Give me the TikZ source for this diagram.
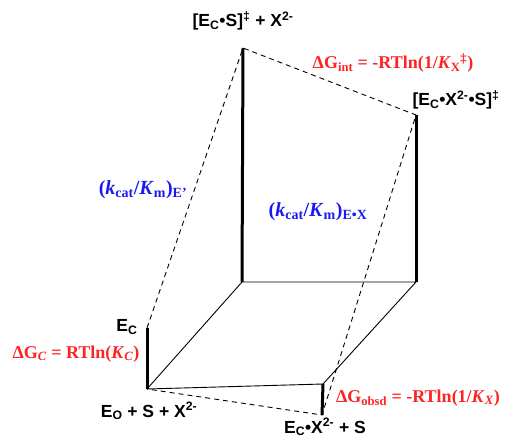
\documentclass[tikz,border=0pt]{standalone}
\usepackage{fontspec}
\setmainfont{Liberation Serif}
\newfontfamily\arialfont{Liberation Sans}
\usepackage{tikz}
\usetikzlibrary{calc, positioning}
\definecolor{dgRed}{HTML}{FF2222}
\definecolor{rateBlue}{HTML}{1A1AF0}
\tikzset{
  state/.style  = {font=\arialfont\bfseries\fontsize{17.5}{19}\selectfont, text=black, inner sep=1pt},
  energy/.style = {font=\bfseries\fontsize{18}{20}\selectfont, text=dgRed, inner sep=1pt},
  rate/.style   = {font=\bfseries\fontsize{20}{22}\selectfont, text=rateBlue, inner sep=1pt},
  gap/.style    = {draw=black, line width=3pt},
  edge/.style   = {draw=black, line width=0.9pt},
  path/.style   = {draw=black, line width=0.9pt, dash pattern=on 5pt off 4pt}
}
\newcommand{\sub}[1]{\textsubscript{#1}}
\newcommand{\sups}[1]{\textsuperscript{#1}}
\begin{document}
\begin{tikzpicture}[x=1pt, y=-1pt]
  \useasboundingbox (0,0) rectangle (505,438);
  % corners of the box
  \coordinate (eo)  at (147,389);
  \coordinate (ec)  at (147,328);
  \coordinate (ts)  at (243,48);
  \coordinate (tsx) at (416,115);
  \coordinate (ecx) at (322,415);
  \coordinate (fr)  at (323,384);
  \coordinate (bl)  at (242,282);
  \coordinate (br)  at (416,282);
  % floor
  \draw[edge] (eo) -- (bl) -- (br) -- (fr) -- (eo);
  % energy gaps
  \draw[gap] (bl) -- (ts);
  \draw[gap] (br) -- (tsx);
  \draw[gap] (eo) -- (ec);
  \draw[gap] (fr) -- (ecx);
  % reaction paths
  \draw[path] (ec) -- (ts) -- (tsx) -- (ecx) -- (eo);
  % states
  \node[state] (nts)  at (243,21)  {[E\sub{C}•S]\sups{‡} + X\sups{2-}};
  \node[state] (ntsx) at (456,100) {[E\sub{C}•X\sups{2-}•S]\sups{‡}};
  \node[state] (nec)  at (127,327) {E\sub{C}};
  \node[state] (neo)  at (149,411) {E\sub{O} + S + X\sups{2-}};
  \node[state] (necx) at (325,427) {E\sub{C}•X\sups{2-} + S};
  % free energies
  \node[energy] (gint)  at (393,63)  {ΔG\sub{int} = -RTln(1/\textit{K}\sub{X}\sups{‡})};
  \node[energy] (gc)    at (76,354)  {ΔG\sub{\textit{C}} = RTln(\textit{K}\sub{\textit{C}})};
  \node[energy] (gobsd) at (418,398) {ΔG\sub{obsd} = -RTln(1/\textit{K}\sub{\textit{X}})};
  % rate constants
  \node[rate] (kap) at (143,190) {(\textit{k}\sub{cat}/\textit{K}\sub{m})\sub{E'}};
  \node[rate] (kex) at (318,212) {(\textit{k}\sub{cat}/\textit{K}\sub{m})\sub{E•X}};
\end{tikzpicture}
\end{document}
